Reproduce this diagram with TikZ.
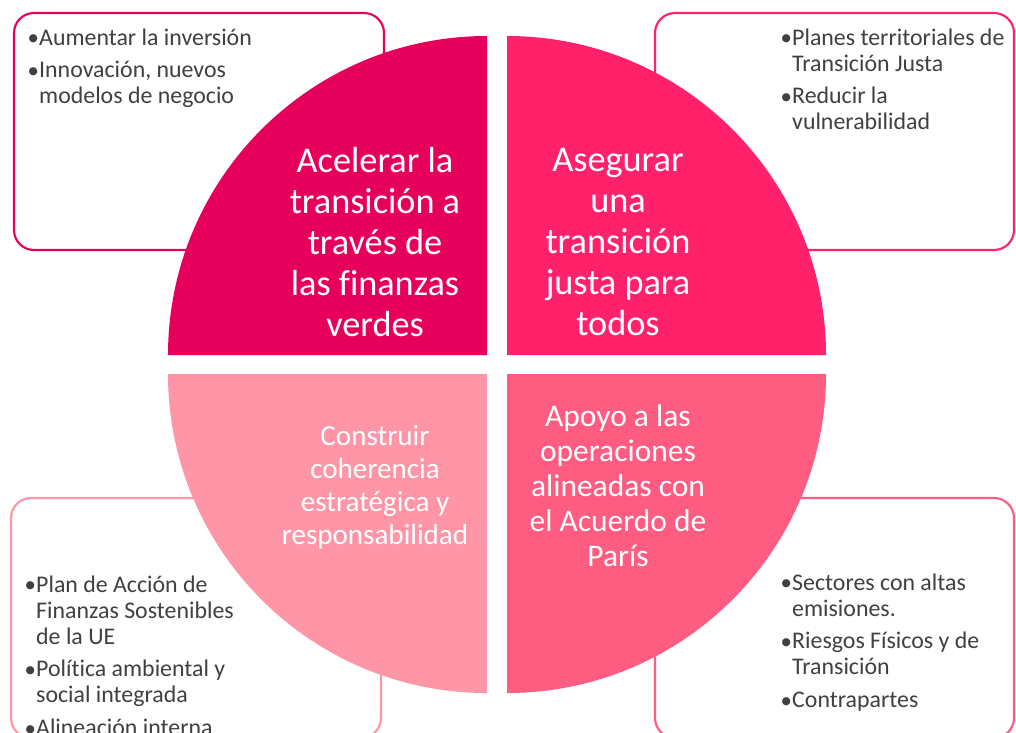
\documentclass[tikz,border=0pt]{standalone}
\usepackage{fontspec}
\setmainfont{Carlito}[Ligatures=NoCommon]
\newfontfamily\dvfont{DejaVu Sans}
\definecolor{qA}{RGB}{230,0,92}
\definecolor{qB}{RGB}{255,34,106}
\definecolor{qC}{RGB}{255,150,168}
\definecolor{qD}{RGB}{255,92,130}
\definecolor{txt}{RGB}{64,64,64}
\newcommand{\bitem}{\makebox[8.2pt][l]{\hspace{0.3pt}\raisebox{2.4pt}{\dvfont\fontsize{8}{0}\selectfont ●}}}
\newcommand{\bsp}{\makebox[8.2pt]{}}
\begin{document}
\begin{tikzpicture}[x=0.75pt,y=-0.75pt,
  box/.style={line width=1.6pt, rounded corners=15pt},
  bigtxt/.style={text=white, align=center, inner sep=0pt, font=\fontsize{27.2}{30.75}\selectfont},
  midtxt/.style={text=white, align=center, inner sep=0pt, font=\fontsize{21.8}{24.75}\selectfont},
  brtxt/.style={text=white, align=center, inner sep=0pt, font=\fontsize{23.6}{26.25}\selectfont},
  list/.style={text=txt, inner sep=0pt, anchor=base west, font=\fontsize{17.9}{19.5}\selectfont}]
\useasboundingbox (0,0) rectangle (1016,732);
\clip (0,0) rectangle (1016,732);
% boxes
\draw[box, draw=qA] (14,13) rectangle (384,250);
\draw[box, draw=qB] (655,13) rectangle (1014,250);
\draw[box, draw=qC] (11,498) rectangle (381,738);
\draw[box, draw=qD] (655,498) rectangle (1014,738);
% quadrants
\fill[qA] (487,355) -- (168,355) arc[start angle=180, end angle=90, radius=239.25pt] -- cycle;
\fill[qB] (507,355) -- (826,355) arc[start angle=0, end angle=90, radius=239.25pt] -- cycle;
\fill[qC] (487,374) -- (168,374) arc[start angle=180, end angle=270, radius=239.25pt] -- cycle;
\fill[qD] (507,374) -- (826,374) arc[start angle=0, end angle=-90, radius=239.25pt] -- cycle;
% quadrant texts
\node[bigtxt] (tA) at (375,242) {Acelerar la\\transición a\\través de\\las finanzas\\verdes};
\node[bigtxt] (tB) at (618,242) {Asegurar\\una\\transición\\justa para\\todos};
\node[midtxt] (tC) at (375,487) {Construir\\coherencia\\estratégica y\\responsabilidad};
\node[brtxt] (tD) at (618,486) {Apoyo a las\\operaciones\\alineadas con\\el Acuerdo de\\París};
% lists
\node[list] (lA) at (28,45) {\begin{tabular}[t]{@{}l@{}}
\bitem Aumentar la inversión\\[5pt]
\bitem Innovación, nuevos\\
\bsp modelos de negocio\end{tabular}};
\node[list] (lB) at (781,45) {\begin{tabular}[t]{@{}l@{}}
\bitem Planes territoriales de\\
\bsp Transición Justa\\[5pt]
\bitem Reducir la\\
\bsp vulnerabilidad\end{tabular}};
\node[list] (lC) at (25,592) {\begin{tabular}[t]{@{}l@{}}
\bitem Plan de Acción de\\
\bsp Finanzas Sostenibles\\
\bsp de la UE\\[5pt]
\bitem Política ambiental y\\
\bsp social integrada\\[5pt]
\bitem Alineación interna\end{tabular}};
\node[list] (lD) at (781,590) {\begin{tabular}[t]{@{}l@{}}
\bitem Sectores con altas\\
\bsp emisiones.\\[5pt]
\bitem Riesgos Físicos y de\\
\bsp Transición\\[5pt]
\bitem Contrapartes\end{tabular}};
\end{tikzpicture}
\end{document}
